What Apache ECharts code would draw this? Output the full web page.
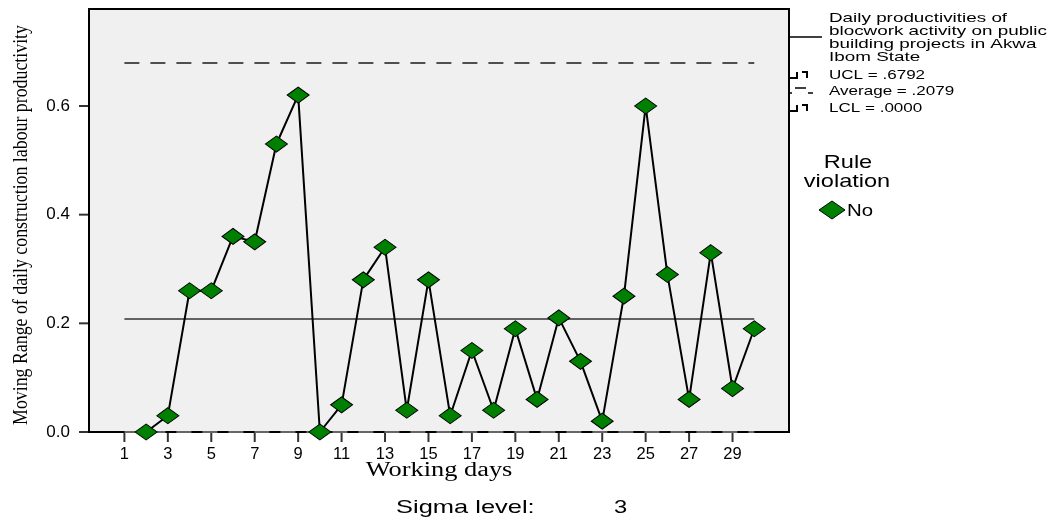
<!DOCTYPE html>
<html>
<head>
<meta charset="utf-8">
<script src="https://cdn.jsdelivr.net/npm/echarts@6/dist/echarts.min.js"></script>
<style>html,body{margin:0;padding:0;background:#fff}#c{width:1060px;height:520px}</style>
</head>
<body>
<div id="c"></div>
<script>
// ---- data ----
const days = [2,3,4,5,6,7,8,9,10,11,12,13,14,15,16,17,18,19,20,21,22,23,24,25,26,27,28,29,30];
const movingRange = [0.00,0.03,0.26,0.26,0.36,0.35,0.53,0.62,0.00,0.05,0.28,0.34,0.04,0.28,0.03,0.15,0.04,0.19,0.06,0.21,0.13,0.02,0.25,0.60,0.29,0.06,0.33,0.08,0.19];
const ucl = 0.6792;
const average = 0.2079;
const lcl = 0.0;
const limitDays = [1, 30];
const xTicks = [1,3,5,7,9,11,13,15,17,19,21,23,25,27,29];
const yTicks = [0.0,0.2,0.4,0.6];
const legendTitle = ['Daily productivities of','blocwork activity on public','building projects in Akwa','Ibom State'];
const legendLimits = ['UCL = .6792','Average = .2079','LCL = .0000'];

const X_MIN = -0.63, X_MAX = 31.6, Y_MIN = 0, Y_MAX = 0.7785;

const chart = echarts.init(document.getElementById('c'), null, {renderer:'canvas'});
const sans = 'Liberation Sans, Arial, sans-serif';
const serif = 'Liberation Serif, Times New Roman, serif';

const graphics = [];
// y-axis title
graphics.push({type:'text', x:21, y:225, rotation:Math.PI/2, scaleX:0.81,
  style:{text:'Moving Range of daily construction labour productivity', font:'22px ' + serif, fill:'#000', align:'center', verticalAlign:'middle'}});
// x-axis title
graphics.push({type:'text', x:439, y:471, scaleX:1.32,
  style:{text:'Working days', font:'20px ' + serif, fill:'#000', align:'center', verticalAlign:'middle'}});
// sigma
graphics.push({type:'text', x:396, y:508, scaleX:1.34,
  style:{text:'Sigma level:', font:'19px ' + sans, fill:'#000', align:'left', verticalAlign:'middle'}});
graphics.push({type:'text', x:614, y:508, scaleX:1.25,
  style:{text:'3', font:'19px ' + sans, fill:'#000', align:'left', verticalAlign:'middle'}});
// legend series line sample
graphics.push({type:'line', shape:{x1:789,y1:37,x2:822,y2:37}, style:{stroke:'#000', lineWidth:1.5}});
legendTitle.forEach((t,i)=>{
  graphics.push({type:'text', x:829, y:18 + i*13, scaleX:1.45,
    style:{text:t, font:'13px ' + sans, fill:'#000', align:'left', verticalAlign:'middle'}});
});
legendLimits.forEach((t,i)=>{
  graphics.push({type:'text', x:829, y:75 + i*16.5, scaleX:1.31,
    style:{text:t, font:'13px ' + sans, fill:'#000', align:'left', verticalAlign:'middle'}});
});
// legend limit symbols
function bracketSym(y){
  graphics.push({type:'polyline', shape:{points:[[790,y+3],[797,y+3],[797,y-3]]}, style:{stroke:'#000', lineWidth:2, fill:null}});
  graphics.push({type:'polyline', shape:{points:[[802,y-3],[807,y-3],[807,y+3]]}, style:{stroke:'#000', lineWidth:2, fill:null}});
}
bracketSym(75); bracketSym(108);
graphics.push({type:'line', shape:{x1:789,y1:93,x2:792,y2:93}, style:{stroke:'#000', lineWidth:1.5}});
graphics.push({type:'line', shape:{x1:795,y1:88,x2:806,y2:88}, style:{stroke:'#000', lineWidth:1.5}});
graphics.push({type:'line', shape:{x1:808,y1:93,x2:813,y2:93}, style:{stroke:'#000', lineWidth:1.5}});
// rule violation legend
graphics.push({type:'text', x:848, y:163, scaleX:1.24,
  style:{text:'Rule', font:'19px ' + sans, fill:'#000', align:'center', verticalAlign:'middle'}});
graphics.push({type:'text', x:847, y:182, scaleX:1.24,
  style:{text:'violation', font:'19px ' + sans, fill:'#000', align:'center', verticalAlign:'middle'}});
graphics.push({type:'polygon', shape:{points:[[819,210],[832,201],[845,210],[832,219]]}, style:{fill:'#008000', stroke:'#000', lineWidth:1}});
graphics.push({type:'text', x:847, y:211, scaleX:1.2,
  style:{text:'No', font:'17px ' + sans, fill:'#000', align:'left', verticalAlign:'middle'}});

const option = {
  animation:false,
  backgroundColor:'#fff',
  grid:{left:89, right:271, top:9, bottom:88, show:true, backgroundColor:'#f0f0f0', borderColor:'#000', borderWidth:2},
  xAxis:{type:'value', min:X_MIN, max:X_MAX,
    axisLine:{show:true, onZero:false, lineStyle:{color:'#000', width:2}},
    axisTick:{show:false},
    axisLabel:{customValues:xTicks, margin:14, fontSize:16.5, fontFamily:sans, color:'#000'},
    splitLine:{show:false}},
  yAxis:{type:'value', min:Y_MIN, max:Y_MAX,
    axisLine:{show:true, onZero:false, lineStyle:{color:'#000', width:2}},
    axisTick:{show:false},
    axisLabel:{customValues:yTicks, margin:19, fontSize:17, fontFamily:sans, color:'#000', formatter:v=>v.toFixed(1)},
    splitLine:{show:false}},
  series:[
    // axis tick marks placed through the axis scales
    {type:'scatter', data:xTicks.map(t=>[t, Y_MIN]), symbol:'rect', symbolSize:[2,10], symbolOffset:[0,5],
      clip:false, silent:true, itemStyle:{color:'#000'}, z:1},
    {type:'scatter', data:yTicks.map(v=>[X_MIN, v]), symbol:'rect', symbolSize:[10,2], symbolOffset:[-5,0],
      clip:false, silent:true, itemStyle:{color:'#000'}, z:1},
    {type:'line', data:limitDays.map(d=>[d,ucl]), symbol:'none', silent:true, clip:false,
      lineStyle:{color:'#1a1a1a', width:1.6, type:[15,11]}, z:2},
    {type:'line', data:limitDays.map(d=>[d,average]), symbol:'none', silent:true, clip:false,
      lineStyle:{color:'#333', width:1.6}, z:2},
    {type:'line', data:limitDays.map(d=>[d,lcl]), symbol:'none', silent:true, clip:false,
      lineStyle:{color:'#888', width:1.6, type:[15,11]}, z:3},
    {type:'line', data:days.map((d,i)=>[d, movingRange[i]]), symbol:'diamond', symbolSize:[22,16],
      showSymbol:true, clip:false,
      itemStyle:{color:'#008000', borderColor:'#000', borderWidth:1},
      lineStyle:{color:'#000', width:2}, z:5}
  ],
  graphic:graphics
};
chart.setOption(option);
</script>
</body>
</html>
